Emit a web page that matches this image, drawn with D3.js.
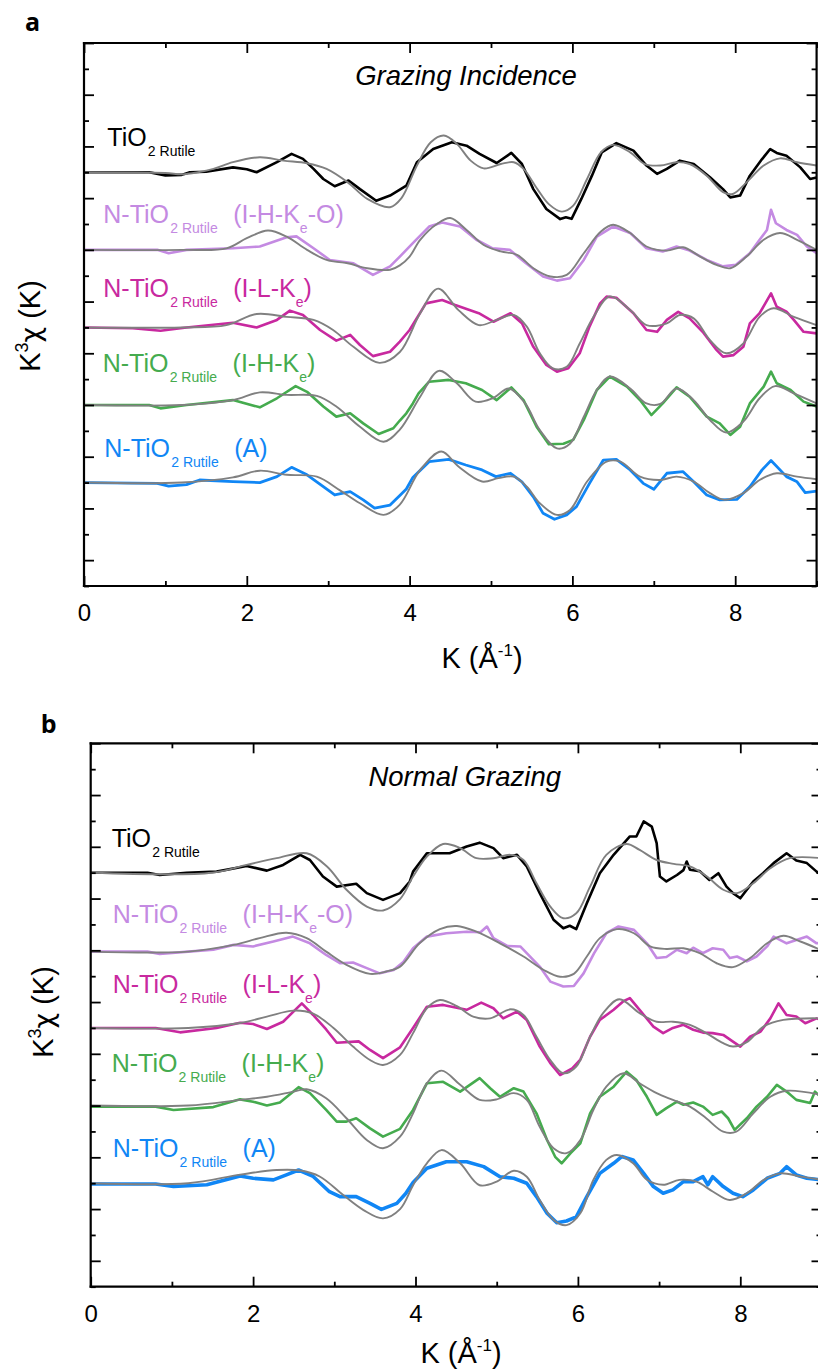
<!DOCTYPE html>
<html><head><meta charset="utf-8">
<script src="https://cdn.jsdelivr.net/npm/d3@7"></script>
<style>body{margin:0;background:#fff}svg{display:block}</style>
</head><body>
<svg id="c" width="818" height="1369"></svg>
<script>
// ---------- DATA ----------
const xMajorTicks = [0, 2, 4, 6, 8];
const xMinorTicks = [1, 3, 5, 7, 9];
const yMajorTicks = [1, 3, 5, 7, 9, 11, 13, 15, 17, 19, 21];
const yMinorTicks = [0, 2, 4, 6, 8, 10, 12, 14, 16, 18, 20];

const sampleNames = [
  [["TiO", 0], ["2 Rutile", 1]],
  [["N-TiO", 0], ["2 Rutile", 1], ["(I-H-K", 0], ["e", 1], ["-O)", 0]],
  [["N-TiO", 0], ["2 Rutile", 1], ["(I-L-K", 0], ["e", 1], [")", 0]],
  [["N-TiO", 0], ["2 Rutile", 1], ["(I-H-K", 0], ["e", 1], [")", 0]],
  [["N-TiO", 0], ["2 Rutile", 1], ["(A)", 0]]
];
const sampleColors = ["#000000", "#c48ae2", "#c8299f", "#45ab4e", "#1086f5"];
const stackOffsets = [16, 13, 10, 7, 4];
const fitColor = "#808080";

// Panel a : Grazing Incidence  [k, k^3 chi]
const aBlackExp = [[0,0],[0.8,0],[1.0,-0.12],[1.2,-0.1],[1.3,0],[1.5,0.02],[1.83,0.19],[2.0,0.12],[2.12,0],[2.37,0.39],[2.55,0.71],[2.69,0.52],[2.82,0.13],[2.94,-0.26],[3.08,-0.54],[3.25,-0.32],[3.39,-0.65],[3.59,-1.10],[3.76,-0.9],[3.96,-0.52],[4.09,0.39],[4.29,0.9],[4.52,1.16],[4.70,1.03],[4.86,0.71],[5.07,0.36],[5.25,0.75],[5.38,0.32],[5.52,-0.65],[5.68,-1.42],[5.85,-1.81],[5.92,-1.74],[5.99,-1.8],[6.11,-1.03],[6.24,-0.13],[6.36,0.77],[6.54,1.13],[6.75,0.84],[6.91,0.26],[7.04,-0.06],[7.16,0.13],[7.32,0.45],[7.49,0.32],[7.69,-0.19],[7.85,-0.65],[7.94,-0.97],[8.06,-0.9],[8.18,-0.13],[8.33,0.51],[8.43,0.9],[8.51,0.75],[8.63,0.64],[8.80,0.19],[8.92,-0.26],[9,-0.2]];
const aBlackFit = [[0,0],[1.0,-0.03],[1.2,-0.08],[1.4,0],[1.59,0.13],[1.83,0.39],[2.16,0.58],[2.45,0.45],[2.74,0.35],[2.98,0.13],[3.24,-0.39],[3.48,-1.03],[3.76,-1.35],[3.9,-1.0],[4.09,0.26],[4.26,1.16],[4.42,1.42],[4.58,1.1],[4.75,0.45],[4.91,0.15],[5.12,0.32],[5.28,0.39],[5.40,0.13],[5.57,-0.65],[5.71,-1.23],[5.87,-1.52],[6.01,-1.29],[6.18,-0.26],[6.35,0.77],[6.50,1.06],[6.71,0.77],[6.89,0.32],[7.08,0.26],[7.28,0.39],[7.44,0.32],[7.65,-0.13],[7.85,-0.77],[7.97,-0.84],[8.14,-0.39],[8.35,0.26],[8.55,0.54],[8.76,0.39],[9,0.26]];
const aVioletExp = [[0,0],[0.9,0],[1.04,-0.13],[1.26,0],[1.83,0.06],[2.16,0.13],[2.49,0.49],[2.61,0.52],[2.82,0.06],[3.02,-0.39],[3.31,-0.52],[3.55,-0.97],[3.76,-0.64],[3.88,-0.26],[4.04,0.26],[4.24,0.9],[4.40,1.06],[4.62,0.9],[4.82,0.39],[5.02,0.06],[5.23,0],[5.43,-0.52],[5.64,-1.03],[5.81,-1.19],[5.97,-1.10],[6.14,-0.39],[6.30,0.51],[6.50,0.9],[6.71,0.65],[6.91,0.06],[7.11,-0.06],[7.28,0.13],[7.44,-0.03],[7.65,-0.39],[7.85,-0.64],[8.01,-0.58],[8.18,-0.13],[8.30,0.39],[8.39,0.77],[8.44,1.55],[8.50,1.03],[8.63,0.77],[8.76,0.58],[8.88,0.13],[9,-0.13]];
const aVioletFit = [[0,0],[1.2,0],[1.75,0.06],[2.0,0.45],[2.26,0.75],[2.49,0.51],[2.74,0],[2.98,-0.39],[3.24,-0.52],[3.48,-0.71],[3.76,-0.77],[3.88,-0.6],[4.0,-0.26],[4.13,0.39],[4.34,1.01],[4.50,1.23],[4.70,0.77],[4.91,0.19],[5.12,-0.06],[5.32,-0.19],[5.52,-0.71],[5.73,-1.03],[5.93,-0.97],[6.14,-0.13],[6.35,0.71],[6.50,0.97],[6.71,0.65],[6.91,0.13],[7.16,-0.03],[7.36,0.1],[7.57,-0.26],[7.77,-0.58],[7.94,-0.71],[8.14,-0.26],[8.35,0.39],[8.55,0.65],[8.76,0.39],[9,0]];
const aMagentaExp = [[0,0],[0.6,-0.03],[0.94,-0.13],[1.26,0],[1.83,0.18],[2.12,0],[2.37,0.29],[2.53,0.65],[2.69,0.48],[2.90,-0.1],[3.10,-0.51],[3.27,-0.29],[3.39,-0.68],[3.55,-1.11],[3.76,-0.94],[3.88,-0.55],[4.0,-0.1],[4.2,0.93],[4.40,1.06],[4.56,0.87],[4.85,0.55],[5.03,0.22],[5.24,0.55],[5.38,0.16],[5.52,-0.75],[5.68,-1.45],[5.81,-1.71],[5.95,-1.58],[6.09,-1.0],[6.21,0.03],[6.34,0.93],[6.42,1.19],[6.54,1.15],[6.75,0.55],[6.91,-0.1],[7.04,-0.17],[7.16,0.29],[7.30,0.6],[7.44,0.35],[7.60,-0.17],[7.77,-0.87],[7.85,-1.13],[7.98,-1.07],[8.10,-0.75],[8.18,0.16],[8.30,0.55],[8.44,1.32],[8.51,0.8],[8.63,0.61],[8.72,0.29],[8.84,-0.17],[9,-0.23]];
const aMagentaFit = [[0,0],[1.2,0],[1.75,0.09],[2.12,0.52],[2.49,0.41],[2.82,0.29],[3.06,-0.1],[3.31,-0.75],[3.63,-1.37],[3.88,-0.95],[4.13,0.55],[4.35,1.5],[4.60,0.67],[4.85,0.09],[5.07,0.29],[5.28,0.48],[5.44,0.03],[5.60,-1.0],[5.76,-1.58],[5.93,-1.52],[6.09,-0.62],[6.26,0.41],[6.46,1.2],[6.71,0.67],[6.91,0.09],[7.16,0.16],[7.32,0.48],[7.49,0.35],[7.69,-0.49],[7.89,-1.0],[8.10,-0.62],[8.30,0.41],[8.47,0.74],[8.72,0.41],[9,0.09]];
const aGreenExp = [[0,0],[0.8,0],[0.94,-0.13],[1.26,0],[1.83,0.19],[2.16,-0.09],[2.37,0.26],[2.60,0.73],[2.74,0.51],[2.94,-0.06],[3.10,-0.45],[3.27,-0.32],[3.43,-0.71],[3.62,-1.12],[3.80,-0.9],[3.88,-0.6],[3.96,-0.32],[4.04,0.06],[4.11,0.45],[4.24,0.9],[4.48,0.97],[4.69,0.84],[4.89,0.58],[5.07,0.19],[5.25,0.68],[5.40,0.19],[5.56,-0.84],[5.71,-1.52],[5.89,-1.5],[6.01,-1.35],[6.14,-0.58],[6.30,0.58],[6.46,1.1],[6.67,0.71],[6.83,0.19],[6.97,-0.39],[7.11,0.06],[7.28,0.68],[7.44,0.32],[7.65,-0.45],[7.81,-0.71],[7.94,-1.16],[8.06,-0.84],[8.18,0.06],[8.35,0.71],[8.44,1.29],[8.51,0.84],[8.68,0.58],[8.84,0.13],[9,-0.06]];
const aGreenFit = [[0,0],[1.2,0],[1.83,0.19],[2.16,0.49],[2.49,0.39],[2.86,0.35],[3.10,-0.06],[3.39,-0.84],[3.68,-1.42],[3.88,-0.95],[4.13,0.32],[4.36,1.32],[4.58,0.84],[4.81,0.13],[5.02,0.26],[5.22,0.64],[5.42,0.06],[5.60,-0.97],[5.81,-1.68],[5.97,-1.5],[6.14,-0.45],[6.30,0.58],[6.46,1.1],[6.71,0.64],[6.91,0.06],[7.08,0.04],[7.28,0.64],[7.49,0.19],[7.69,-0.58],[7.89,-1.07],[8.10,-0.64],[8.30,0.26],[8.49,0.73],[8.72,0.45],[9,0.06]];
const aBlueExp = [[0,0],[0.9,-0.03],[1.04,-0.14],[1.26,-0.08],[1.42,0.1],[1.83,0.04],[2.16,0],[2.37,0.23],[2.55,0.59],[2.74,0.3],[2.94,-0.16],[3.08,-0.48],[3.27,-0.35],[3.43,-0.67],[3.57,-0.99],[3.76,-0.87],[3.88,-0.5],[3.96,-0.25],[4.04,0.2],[4.24,0.81],[4.48,0.9],[4.69,0.68],[4.89,0.49],[5.06,0.23],[5.24,0.36],[5.38,0.03],[5.52,-0.55],[5.64,-1.19],[5.78,-1.42],[5.93,-1.25],[6.05,-0.93],[6.21,-0.03],[6.38,0.87],[6.54,0.9],[6.71,0.49],[6.87,-0.03],[7.0,-0.26],[7.16,0.36],[7.36,0.42],[7.49,0.03],[7.65,-0.48],[7.81,-0.67],[8.02,-0.65],[8.18,-0.16],[8.33,0.49],[8.44,0.85],[8.63,0.23],[8.76,0.03],[8.86,-0.39],[9,-0.33]];
const aBlueFit = [[0,0],[1.2,0],[1.83,0.2],[2.16,0.46],[2.49,0.3],[2.86,0.23],[3.14,-0.29],[3.39,-0.8],[3.68,-1.25],[3.88,-0.85],[4.13,0.49],[4.39,1.2],[4.60,0.62],[4.89,0.04],[5.09,0.17],[5.28,0.23],[5.44,-0.16],[5.60,-0.8],[5.81,-1.25],[5.97,-1.06],[6.18,0.04],[6.42,0.81],[6.59,0.81],[6.83,0.23],[7.08,0.1],[7.28,0.23],[7.49,0.04],[7.69,-0.41],[7.87,-0.67],[8.10,-0.41],[8.30,0.1],[8.51,0.36],[8.76,0.23],[9,0.13]];

// Panel b : Normal Grazing
const bBlackExp = [[0,0],[0.7,0],[0.85,-0.09],[1.18,0],[1.55,0.04],[1.92,0.26],[2.17,0.08],[2.37,0.3],[2.58,0.69],[2.70,0.49],[2.86,-0.15],[3.03,-0.54],[3.27,-0.43],[3.40,-0.79],[3.60,-1.05],[3.81,-0.79],[3.93,-0.34],[3.97,0.04],[4.14,0.75],[4.42,0.75],[4.63,1.01],[4.79,1.16],[4.96,0.95],[5.08,0.56],[5.25,0.69],[5.37,0.24],[5.53,-0.79],[5.70,-1.82],[5.82,-2.15],[5.90,-2.05],[5.98,-2.18],[6.11,-1.18],[6.27,-0.02],[6.44,0.69],[6.64,1.4],[6.72,1.4],[6.81,1.98],[6.91,1.78],[6.97,1.14],[7.01,-0.15],[7.09,-0.34],[7.22,-0.09],[7.30,0.1],[7.34,0.43],[7.38,0.11],[7.50,0.06],[7.62,-0.28],[7.73,-0.02],[7.83,-0.54],[7.91,-0.79],[8.0,-0.99],[8.08,-0.66],[8.16,-0.34],[8.28,-0.02],[8.41,0.37],[8.57,0.75],[8.69,0.47],[8.82,0.37],[8.94,0.04],[9,-0.1]];
const bBlackFit = [[0,0],[1.5,0],[1.92,0.3],[2.29,0.56],[2.66,0.75],[2.91,0.24],[3.15,-0.66],[3.40,-1.31],[3.60,-1.46],[3.81,-1.02],[3.97,-0.15],[4.14,0.62],[4.34,1.11],[4.55,0.95],[4.75,0.56],[4.96,0.56],[5.17,0.69],[5.33,0.49],[5.49,-0.41],[5.66,-1.31],[5.82,-1.76],[5.98,-1.57],[6.15,-0.54],[6.35,0.69],[6.60,1.11],[6.76,0.88],[6.97,0.49],[7.18,0.34],[7.38,0.24],[7.59,-0.15],[7.79,-0.66],[7.96,-0.79],[8.16,-0.41],[8.37,0.17],[8.61,0.56],[9,0.56]];
const bVioletExp = [[0,-0.05],[0.7,-0.05],[0.85,-0.14],[1.2,-0.05],[1.51,0.02],[1.76,0.21],[2.0,0.15],[2.25,0.34],[2.49,0.53],[2.70,0.27],[2.90,-0.18],[3.07,-0.5],[3.23,-0.47],[3.40,-0.69],[3.56,-0.89],[3.73,-0.76],[3.85,-0.45],[3.97,0.08],[4.14,0.53],[4.38,0.66],[4.63,0.72],[4.80,0.7],[4.88,0.92],[4.96,0.47],[5.13,0.17],[5.29,0.15],[5.37,-0.11],[5.53,-0.63],[5.66,-1.21],[5.82,-1.4],[5.95,-1.38],[6.07,-0.89],[6.20,-0.11],[6.35,0.66],[6.50,0.92],[6.69,0.79],[6.85,0.27],[6.97,-0.3],[7.09,-0.26],[7.22,0.02],[7.34,-0.11],[7.42,0.1],[7.54,-0.11],[7.66,0.08],[7.79,0.02],[7.87,-0.3],[7.96,-0.24],[8.08,-0.43],[8.20,-0.24],[8.33,0.15],[8.41,0.53],[8.57,0.27],[8.69,0.4],[8.82,0.53],[8.94,0.27],[9,0.3]];
const bVioletFit = [[0,-0.05],[1.2,-0.05],[1.76,0.21],[2.08,0.47],[2.41,0.68],[2.66,0.47],[2.90,-0.05],[3.15,-0.56],[3.44,-0.91],[3.64,-0.82],[3.81,-0.63],[4.05,0.27],[4.30,0.82],[4.51,0.94],[4.75,0.72],[5.04,0.27],[5.33,-0.24],[5.58,-0.76],[5.78,-1.02],[5.95,-0.91],[6.11,-0.24],[6.27,0.47],[6.48,0.82],[6.69,0.66],[6.89,0.15],[7.09,0.05],[7.30,0.08],[7.50,-0.11],[7.71,-0.5],[7.91,-0.65],[8.12,-0.3],[8.33,0.27],[8.53,0.56],[8.74,0.34],[9,0.0]];
const bMagentaExp = [[0,0],[0.8,0],[1.10,-0.17],[1.55,0],[1.84,0.2],[2.0,0.15],[2.17,-0.04],[2.37,0.24],[2.60,0.95],[2.74,0.5],[2.90,-0.06],[3.03,-0.57],[3.30,-0.52],[3.44,-0.85],[3.60,-1.17],[3.81,-0.75],[3.97,0],[4.14,0.82],[4.34,0.89],[4.63,0.7],[4.81,0.98],[4.96,0.76],[5.08,0.37],[5.25,0.63],[5.37,0.31],[5.53,-0.72],[5.66,-1.36],[5.78,-1.82],[5.93,-1.56],[6.03,-1.22],[6.15,-0.34],[6.27,0.31],[6.44,0.7],[6.56,1.03],[6.64,1.15],[6.76,0.7],[6.93,0.05],[7.05,-0.2],[7.17,0],[7.30,0.12],[7.42,-0.07],[7.54,-0.18],[7.66,-0.2],[7.79,-0.27],[7.91,-0.53],[8.0,-0.72],[8.12,-0.34],[8.25,-0.14],[8.37,0.37],[8.47,0.95],[8.57,0.5],[8.69,0.44],[8.80,0.18],[8.94,0.37],[9,0.3]];
const bMagentaFit = [[0,0],[1.2,0],[1.84,0.19],[2.17,0.44],[2.50,0.67],[2.74,0.55],[2.99,0],[3.23,-0.72],[3.44,-1.24],[3.60,-1.43],[3.81,-1.04],[3.97,-0.2],[4.14,0.76],[4.30,1.08],[4.51,0.84],[4.71,0.44],[4.92,0.37],[5.17,0.72],[5.33,0.5],[5.49,-0.34],[5.66,-1.24],[5.82,-1.75],[5.98,-1.49],[6.15,-0.34],[6.31,0.57],[6.51,1.11],[6.76,0.57],[6.97,0.24],[7.17,0.24],[7.38,0.12],[7.58,-0.2],[7.79,-0.59],[7.91,-0.72],[8.08,-0.55],[8.29,0.06],[8.53,0.31],[9,0.37]];
const bGreenExp = [[0,-0.04],[0.8,-0.04],[1.02,-0.17],[1.51,-0.06],[1.84,0.24],[2.0,0.15],[2.17,0],[2.33,0.12],[2.56,0.71],[2.70,0.48],[2.90,-0.17],[3.03,-0.62],[3.15,-0.62],[3.27,-0.49],[3.44,-0.88],[3.60,-1.2],[3.81,-0.9],[3.97,-0.17],[4.14,0.86],[4.34,0.92],[4.55,0.54],[4.79,1.06],[4.92,0.67],[5.04,0.34],[5.21,0.67],[5.33,0.54],[5.49,-0.3],[5.62,-1.33],[5.72,-1.98],[5.80,-2.23],[5.91,-1.84],[6.03,-1.46],[6.15,-0.3],[6.27,0.34],[6.44,0.73],[6.60,1.31],[6.72,0.99],[6.85,0.34],[6.97,-0.36],[7.09,-0.1],[7.22,0.15],[7.30,0.03],[7.42,0.12],[7.54,-0.04],[7.66,-0.36],[7.77,-0.23],[7.85,-0.49],[7.93,-0.94],[8.08,-0.49],[8.20,-0.04],[8.33,0.34],[8.45,0.8],[8.57,0.54],[8.69,0.22],[8.86,0.1],[8.92,0.54],[9,0.3]];
const bGreenFit = [[0,0],[1.2,0],[1.84,0.22],[2.17,0.34],[2.50,0.54],[2.66,0.63],[2.90,0.28],[3.15,-0.49],[3.40,-1.33],[3.60,-1.65],[3.81,-1.2],[3.97,-0.3],[4.14,0.86],[4.32,1.35],[4.55,0.8],[4.79,0.22],[5.00,0.24],[5.21,0.48],[5.37,0.22],[5.53,-0.82],[5.70,-1.65],[5.86,-1.84],[6.03,-1.33],[6.19,-0.17],[6.35,0.73],[6.56,1.25],[6.76,0.86],[6.97,0.48],[7.17,0.22],[7.38,-0.04],[7.58,-0.49],[7.79,-1.01],[7.95,-1.01],[8.16,-0.3],[8.37,0.34],[8.57,0.57],[9,0.41]];
const bBlueExp = [[0,-0.03],[0.8,-0.03],[1.02,-0.13],[1.43,-0.06],[1.84,0.28],[2.0,0.19],[2.25,0.13],[2.41,0.32],[2.56,0.51],[2.74,0.26],[2.94,-0.33],[3.07,-0.52],[3.27,-0.52],[3.44,-0.78],[3.58,-1.01],[3.77,-0.78],[3.88,-0.4],[3.97,0.03],[4.14,0.58],[4.38,0.83],[4.63,0.83],[4.84,0.64],[5.04,0.25],[5.21,0.19],[5.37,0],[5.49,-0.52],[5.62,-1.16],[5.74,-1.53],[5.86,-1.46],[5.98,-1.3],[6.11,-0.52],[6.27,0.38],[6.44,0.77],[6.54,1.03],[6.68,0.9],[6.81,0.38],[6.93,-0.13],[7.05,-0.39],[7.17,-0.26],[7.30,0.06],[7.42,0.06],[7.54,0.25],[7.60,-0.06],[7.66,0.25],[7.79,-0.13],[7.91,-0.39],[8.03,-0.52],[8.16,-0.26],[8.33,0.19],[8.49,0.38],[8.57,0.64],[8.69,0.32],[8.82,0.19],[9,0.13]];
const bBlueFit = [[0,0],[1.2,0],[1.84,0.33],[2.29,0.51],[2.58,0.49],[2.82,0.26],[3.11,-0.46],[3.36,-1.04],[3.60,-1.36],[3.81,-1.0],[3.97,-0.08],[4.14,0.77],[4.32,1.28],[4.55,0.77],[4.79,-0.08],[5.00,0.06],[5.21,0.48],[5.37,0.25],[5.53,-0.65],[5.70,-1.42],[5.86,-1.62],[6.03,-1.16],[6.19,0.13],[6.35,0.9],[6.48,1.09],[6.68,0.77],[6.85,0.13],[7.05,-0.06],[7.25,0.13],[7.46,0.06],[7.66,-0.32],[7.87,-0.65],[8.08,-0.39],[8.29,0.13],[8.49,0.38],[8.74,0.26],[9,0.13]];

// ---------- DRAW ----------
const FONT = "'Liberation Sans', Arial, Helvetica, sans-serif";
const svg = d3.select("#c");

const panels = [
  { id: "a", letter: "a", letterX: 25, letterY: 31, title: "Grazing Incidence",
    left: 84, top: 43, width: 732.6, height: 543, closeRight: true,
    titleDX: 382, titleDY: 42,
    exp: [aBlackExp, aVioletExp, aMagentaExp, aGreenExp, aBlueExp],
    fit: [aBlackFit, aVioletFit, aMagentaFit, aGreenFit, aBlueFit],
    expWidth: [2.6, 2.6, 2.6, 2.6, 2.8],
    labelDX: [23.3, 19.3, 19.3, 18.7, 20.3],
    labelU: [17.02, 14.05, 11.19, 8.28, 4.98],
    yTitleX: 40, yTitleY: 326, xTitleX: 482, xTitleY: 668 },
  { id: "b", letter: "b", letterX: 40.7, letterY: 732.7, title: "Normal Grazing",
    left: 90.7, top: 743.3, width: 730.8, height: 543.4, closeRight: false,
    titleDX: 374, titleDY: 42.7,
    exp: [bBlackExp, bVioletExp, bMagentaExp, bGreenExp, bBlueExp],
    fit: [bBlackFit, bVioletFit, bMagentaFit, bGreenFit, bBlueFit],
    expWidth: [2.6, 2.6, 2.6, 2.6, 3.6],
    labelDX: [21, 22, 22, 21, 22],
    labelU: [17.0, 14.05, 11.34, 8.31, 5.03],
    yTitleX: 53, yTitleY: 1012, xTitleX: 461, xTitleY: 1363 }
];

panels.forEach(p => {
  const g = svg.append("g").attr("transform", `translate(${p.left},${p.top})`);
  const x = d3.scaleLinear().domain([0, 9]).range([0, p.width]);
  const y = d3.scaleLinear().domain([0, 21]).range([p.height, 0]);

  g.append("clipPath").attr("id", "clip-" + p.id)
    .append("rect").attr("x", 0).attr("y", 0).attr("width", p.width).attr("height", p.height);

  const plot = g.append("g").attr("clip-path", `url(#clip-${p.id})`);

  const expLine = off => d3.line().x(d => x(d[0])).y(d => y(d[1] + off)).curve(d3.curveLinear);
  const fitLine = off => d3.line().x(d => x(d[0])).y(d => y(d[1] + off)).curve(d3.curveCatmullRom.alpha(0.5));

  p.exp.forEach((arr, i) => {
    plot.append("path").datum(arr)
      .attr("d", expLine(stackOffsets[i]))
      .attr("fill", "none").attr("stroke", sampleColors[i])
      .attr("stroke-width", p.expWidth[i]).attr("stroke-linejoin", "round");
  });
  p.fit.forEach((arr, i) => {
    plot.append("path").datum(arr)
      .attr("d", fitLine(stackOffsets[i]))
      .attr("fill", "none").attr("stroke", fitColor)
      .attr("stroke-width", 1.9).attr("stroke-linejoin", "round");
  });

  // series labels
  sampleNames.forEach((parts, i) => {
    const t = g.append("text")
      .attr("x", p.labelDX[i]).attr("y", y(p.labelU[i]))
      .attr("font-family", FONT).attr("fill", sampleColors[i]);
    let prevSub = false;
    parts.forEach(([txt, sub], j) => {
      const ts = t.append("tspan").text(txt);
      if (sub) {
        ts.attr("font-size", 14).attr("dy", 10).attr("dx", j === 1 ? 1.2 : 0);
      } else {
        ts.attr("font-size", 25);
        if (prevSub) ts.attr("dy", -10).attr("dx", txt.startsWith("(") ? 15.5 : 0);
      }
      prevSub = !!sub;
    });
  });

  // frame
  g.append("line").attr("x1", 0).attr("x2", 0).attr("y1", 0).attr("y2", p.height);
  g.append("line").attr("x1", 0).attr("x2", p.width).attr("y1", 0).attr("y2", 0);
  g.append("line").attr("x1", 0).attr("x2", p.width).attr("y1", p.height).attr("y2", p.height);
  if (p.closeRight) g.append("line").attr("x1", p.width).attr("x2", p.width).attr("y1", 0).attr("y2", p.height);
  g.selectAll("line").attr("stroke", "#000").attr("stroke-width", 2.2).attr("stroke-linecap", "square");

  const styleAxis = sel => {
    sel.select(".domain").remove();
    sel.selectAll(".tick line").attr("stroke", "#000").attr("stroke-width", 1.8);
    sel.attr("font-family", FONT).attr("font-size", 24);
    sel.selectAll(".tick text").attr("fill", "#000");
  };

  g.append("g").attr("transform", `translate(0,${p.height})`)
    .call(d3.axisBottom(x).tickValues(xMajorTicks).tickSize(-10).tickPadding(18).tickFormat(d3.format("d")))
    .call(styleAxis);
  g.append("g").attr("transform", `translate(0,${p.height})`)
    .call(d3.axisBottom(x).tickValues(xMinorTicks).tickSize(-5).tickFormat(""))
    .call(styleAxis);
  g.append("g")
    .call(d3.axisTop(x).tickValues(xMajorTicks).tickSize(-10).tickFormat(""))
    .call(styleAxis);
  g.append("g")
    .call(d3.axisTop(x).tickValues(xMinorTicks).tickSize(-5).tickFormat(""))
    .call(styleAxis);
  g.append("g")
    .call(d3.axisLeft(y).tickValues(yMajorTicks).tickSize(-10).tickFormat(""))
    .call(styleAxis);
  g.append("g")
    .call(d3.axisLeft(y).tickValues(yMinorTicks).tickSize(-5).tickFormat(""))
    .call(styleAxis);
  g.append("g").attr("transform", `translate(${p.width},0)`)
    .call(d3.axisRight(y).tickValues(yMajorTicks).tickSize(-10).tickFormat(""))
    .call(styleAxis);
  g.append("g").attr("transform", `translate(${p.width},0)`)
    .call(d3.axisRight(y).tickValues(yMinorTicks).tickSize(-5).tickFormat(""))
    .call(styleAxis);

  // panel title
  g.append("text").attr("x", p.titleDX).attr("y", p.titleDY)
    .attr("text-anchor", "middle").attr("font-family", FONT)
    .attr("font-style", "italic").attr("font-size", 27.5).attr("fill", "#000")
    .text(p.title);

  // panel letter
  svg.append("text").attr("x", p.letterX).attr("y", p.letterY)
    .attr("font-family", "'Open Sans', " + FONT).attr("font-weight", "bold")
    .attr("font-size", 25).attr("fill", "#000").text(p.letter);

  // y title
  const yt = svg.append("text")
    .attr("transform", `translate(${p.yTitleX},${p.yTitleY}) rotate(-90)`)
    .attr("text-anchor", "middle").attr("font-family", FONT).attr("font-size", 29).attr("fill", "#000");
  yt.append("tspan").text("K");
  yt.append("tspan").attr("font-size", 18).attr("dy", -12).text("3");
  yt.append("tspan").attr("dy", 12).attr("font-family", "'DejaVu Sans', sans-serif").attr("font-size", 27).text("\u03C7");
  yt.append("tspan").text(" (K)");

  // x title
  const xt = svg.append("text")
    .attr("x", p.xTitleX).attr("y", p.xTitleY)
    .attr("text-anchor", "middle").attr("font-family", FONT).attr("font-size", 29).attr("fill", "#000");
  xt.append("tspan").text("K (\u00C5");
  xt.append("tspan").attr("font-size", 17).attr("dy", -12).text("-1");
  xt.append("tspan").attr("dy", 12).text(")");
});
</script>
</body></html>
